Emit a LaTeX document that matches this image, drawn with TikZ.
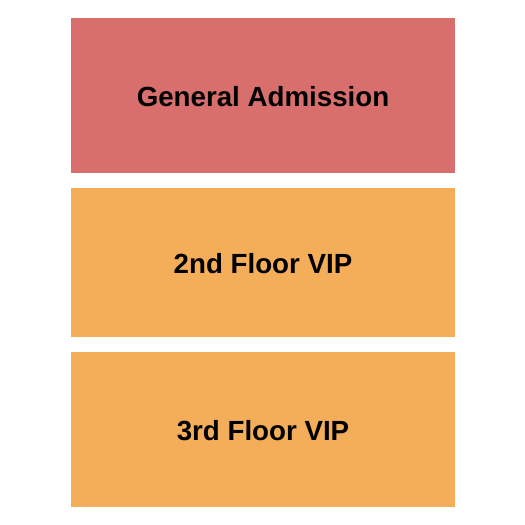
\documentclass[tikz,border=0pt]{standalone}
\usepackage{fontspec}
\setmainfont{Liberation Sans}
\definecolor{gacolor}{HTML}{D86F6D}
\definecolor{vipcolor}{HTML}{F4AE5A}
\tikzset{
  section/.style = {inner sep=0pt, minimum width=384pt},
  sec_ga/.style = {section, fill=gacolor, minimum height=155pt},
  sec_vip/.style = {section, fill=vipcolor, minimum height=149pt},
  sec_label/.style = {align=center, inner sep=0pt, font=\fontsize{27.7}{32}\selectfont\bfseries},
}

\begin{document}
\begin{tikzpicture}[x=1pt, y=-1pt]
  \useasboundingbox (0,0) rectangle (525,525);
  \node [sec_ga] (ga) at (263,95.5) {};
  \node [sec_vip] (vip2) at (263,262.5) {};
  \node [sec_ga, fill=vipcolor] (vip3) at (263,429.5) {};
  \node [sec_label] (ga_t) at ([yshift=-1.5pt]ga.center) {General Admission};
  \node [sec_label] (vip2_t) at ([yshift=-1.5pt]vip2.center) {2nd Floor VIP};
  \node [sec_label] (vip3_t) at ([yshift=-1.5pt]vip3.center) {3rd Floor VIP};
\end{tikzpicture}
\end{document}
